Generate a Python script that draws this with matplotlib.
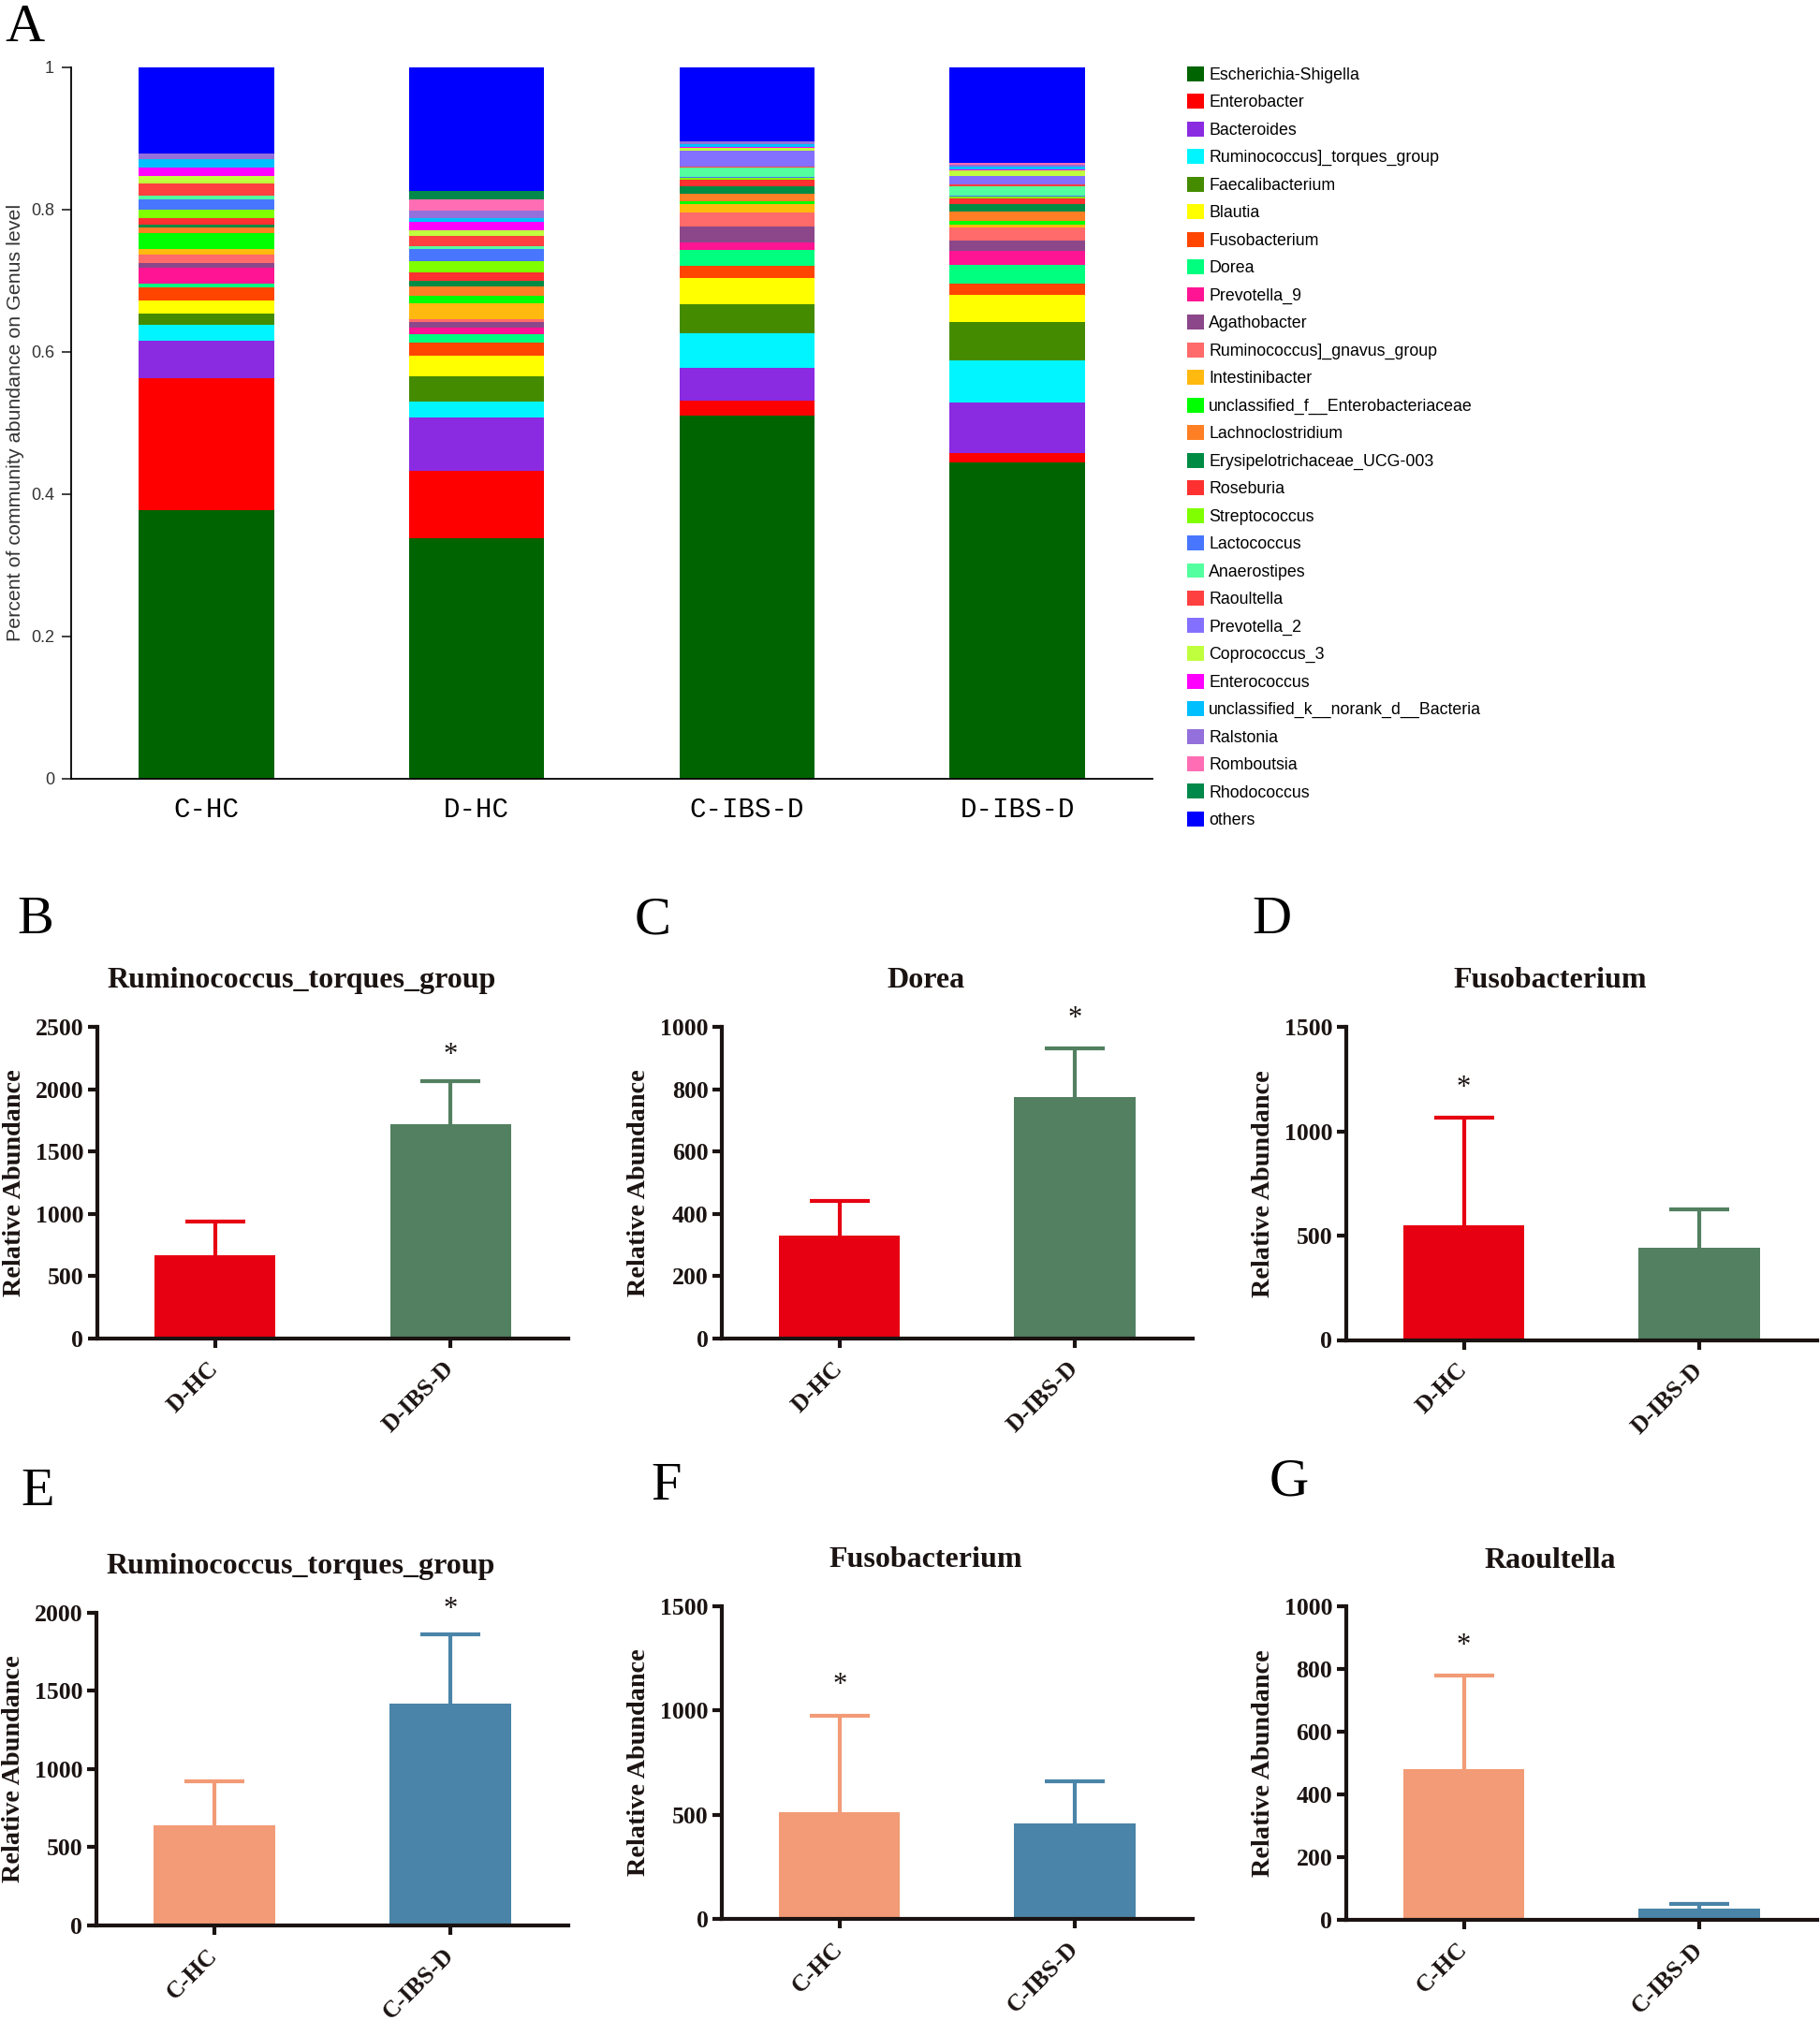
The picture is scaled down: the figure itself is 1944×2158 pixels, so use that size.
import matplotlib
matplotlib.use("Agg")
import matplotlib.pyplot as plt
from matplotlib.patches import Patch
import numpy as np

# ---------------- Panel A data ----------------
groups_A = ["C-HC", "D-HC", "C-IBS-D", "D-IBS-D"]
genera = ["Escherichia-Shigella", "Enterobacter", "Bacteroides", "Ruminococcus]_torques_group",
          "Faecalibacterium", "Blautia", "Fusobacterium", "Dorea", "Prevotella_9", "Agathobacter",
          "Ruminococcus]_gnavus_group", "Intestinibacter", "unclassified_f__Enterobacteriaceae",
          "Lachnoclostridium", "Erysipelotrichaceae_UCG-003", "Roseburia", "Streptococcus",
          "Lactococcus", "Anaerostipes", "Raoultella", "Prevotella_2", "Coprococcus_3",
          "Enterococcus", "unclassified_k__norank_d__Bacteria", "Ralstonia", "Romboutsia",
          "Rhodococcus", "others"]
genus_colors = ["#006400", "#FF0000", "#8A2BE2", "#00F5FF", "#458B00", "#FFFF00", "#FF4500",
                "#00FF7F", "#FF1493", "#8B4789", "#FF6A6A", "#FFB90F", "#00FF00", "#FF7F24",
                "#008B45", "#FF3030", "#7FFF00", "#4876FF", "#54FF9F", "#FF4040", "#8470FF",
                "#C0FF3E", "#FF00FF", "#00BFFF", "#9370DB", "#FF6EB4", "#00894A", "#0000FF"]

escherichia      = [0.378, 0.338, 0.510, 0.4445]
enterobacter     = [0.185, 0.094, 0.021, 0.0125]
bacteroides      = [0.053, 0.075, 0.046, 0.072]
torques          = [0.022, 0.0226, 0.049, 0.059]
faecalibacterium = [0.016, 0.0364, 0.041, 0.054]
blautia          = [0.018, 0.028, 0.037, 0.038]
fusobacterium    = [0.018, 0.0187, 0.016, 0.015]
dorea            = [0.0055, 0.0113, 0.0225, 0.027]
prevotella_9     = [0.0225, 0.010, 0.0105, 0.0197]
agathobacter     = [0.007, 0.008, 0.023, 0.0145]
gnavus           = [0.012, 0.003, 0.019, 0.0185]
intestinibacter  = [0.007, 0.0225, 0.012, 0.004]
uncl_f           = [0.0225, 0.011, 0.004, 0.0055]
lachnoclostridium= [0.0075, 0.0125, 0.011, 0.0125]
erysipelo        = [0.005, 0.008, 0.011, 0.011]
roseburia        = [0.008, 0.012, 0.008, 0.008]
streptococcus    = [0.012, 0.016, 0.003, 0.002]
lactococcus      = [0.015, 0.017, 0.002, 0.002]
anaerostipes     = [0.005, 0.004, 0.012, 0.013]
raoultella       = [0.017, 0.014, 0.002, 0.002]
prevotella_2     = [0.0, 0.001, 0.022, 0.012]
coprococcus_3    = [0.011, 0.007, 0.004, 0.008]
enterococcus     = [0.011, 0.0125, 0.001, 0.001]
uncl_k           = [0.013, 0.0045, 0.005, 0.004]
ralstonia        = [0.007, 0.011, 0.003, 0.003]
romboutsia       = [0.0, 0.016, 0.0, 0.002]
rhodococcus      = [0.0, 0.012, 0.0, 0.0]
others           = [0.122, 0.175, 0.105, 0.134]

abund = [escherichia, enterobacter, bacteroides, torques, faecalibacterium, blautia,
         fusobacterium, dorea, prevotella_9, agathobacter, gnavus, intestinibacter, uncl_f,
         lachnoclostridium, erysipelo, roseburia, streptococcus, lactococcus, anaerostipes,
         raoultella, prevotella_2, coprococcus_3, enterococcus, uncl_k, ralstonia, romboutsia,
         rhodococcus, others]

# ---------------- Panels B-G data ----------------
titles = ["Ruminococcus_torques_group", "Dorea", "Fusobacterium",
          "Ruminococcus_torques_group", "Fusobacterium", "Raoultella"]
panel_letters = ["B", "C", "D", "E", "F", "G"]
cats_D = ["D-HC", "D-IBS-D"]
cats_C = ["C-HC", "C-IBS-D"]
means_B = [670, 1720];  upper_B = [940, 2065]
means_C = [330, 775];   upper_C = [440, 930]
means_D = [550, 440];   upper_D = [1065, 625]
means_E = [640, 1420];  upper_E = [920, 1860]
means_F = [510, 460];   upper_F = [975, 660]
means_G = [480, 35];    upper_G = [780, 50]
ymax_list = [2500, 1000, 1500, 2000, 1500, 1000]
ystep_list = [500, 200, 500, 500, 500, 200]
star_idx = [1, 1, 0, 1, 0, 0]

colors_D = ["#E60012", "#528060"]
colors_C = ["#F29B76", "#4A84A8"]

# ---------------- Figure ----------------
W, H = 1944, 2158
fig = plt.figure(figsize=(W / 100, H / 100), dpi=100)

def rect(x0, y0, x1, y1):
    return [x0 / W, 1 - y1 / H, (x1 - x0) / W, (y1 - y0) / H]

SANS = "Liberation Sans"
SERIF = "Liberation Serif"
INK = "#1a1311"

# ---- Panel A ----
axA = fig.add_axes(rect(76, 71.5, 1231, 832))
xA = np.arange(len(groups_A))
bottom = np.zeros(len(groups_A))
for vals, col in zip(abund, genus_colors):
    axA.bar(xA, vals, bottom=bottom, width=0.5, color=col, edgecolor="none", linewidth=0)
    bottom += np.array(vals)
axA.set_xlim(-0.5, 3.5)
axA.set_ylim(0, 1)
axA.spines["top"].set_visible(False)
axA.spines["right"].set_visible(False)
axA.spines["left"].set_linewidth(1.3)
axA.spines["bottom"].set_linewidth(1.3)
axA.set_yticks([0, 0.2, 0.4, 0.6, 0.8, 1.0])
axA.set_yticklabels(["0", "0.2", "0.4", "0.6", "0.8", "1"], fontsize=13, family=SANS)
axA.tick_params(axis="y", length=7, width=1.3, pad=6, color="#333333", labelcolor="#333333")
axA.set_xticks(xA)
axA.set_xticklabels(groups_A, fontsize=21, family="Liberation Mono")
axA.tick_params(axis="x", length=0, pad=14)
axA.set_ylabel("Percent of community abundance on Genus level", fontsize=15.4, family=SANS,
               color="#333333")
axA.yaxis.set_label_coords(-50 / 1155, 0.5)

handles = [Patch(facecolor=c, edgecolor="none") for c in genus_colors]
fig.legend(handles, genera, loc="upper left", bbox_to_anchor=(1268 / W, 1 - 71 / H),
           frameon=False, prop={"family": SANS, "size": 12.8},
           handlelength=1.0, handleheight=1.0, handletextpad=0.3, labelspacing=0.64,
           borderpad=0, borderaxespad=0)

fig.text(26 / W, 1 - 30 / H, "A", fontsize=42, family=SERIF, ha="center", va="center")

# ---- Panels B-G ----
rects = [rect(103.6, 1097, 607.4, 1430), rect(771, 1097, 1273.6, 1430),
         rect(1437.8, 1097, 1940.8, 1431.5), rect(102.8, 1722.9, 607, 2057),
         rect(771, 1716, 1273.6, 2050), rect(1437.8, 1716.4, 1940.8, 2050.8)]
letter_pos = [(38, 983), (697, 983), (1358, 983), (40, 1594), (712, 1588), (1377, 1584)]
means_all = [means_B, means_C, means_D, means_E, means_F, means_G]
upper_all = [upper_B, upper_C, upper_D, upper_E, upper_F, upper_G]
cats_all = [cats_D, cats_D, cats_D, cats_C, cats_C, cats_C]
cols_all = [colors_D, colors_D, colors_D, colors_C, colors_C, colors_C]
star_offsets = [20, 23, 23, 19, 23, 23]

for i in range(6):
    ax = fig.add_axes(rects[i])
    x = np.arange(2)
    m = means_all[i]
    u = upper_all[i]
    cols = cols_all[i]
    for j in range(2):
        _, caps, _ = ax.errorbar(x[j], m[j], yerr=[[0], [u[j] - m[j]]], fmt="none",
                                 ecolor=cols[j], elinewidth=3.0, capsize=23, capthick=3.0,
                                 zorder=1)
        for cl in caps:
            if np.allclose(cl.get_ydata(), m[j]):
                cl.set_visible(False)
            else:
                cl.set_solid_capstyle("round")
        ax.bar(x[j], m[j], width=0.515, color=cols[j], edgecolor="none", zorder=2)
    s = star_idx[i]
    ax.annotate("*", xy=(x[s], u[s]), xytext=(0, star_offsets[i]), textcoords="offset points",
                ha="center", va="center", fontsize=22, family=SERIF, color=INK)
    ax.set_xlim(-0.5, 1.5)
    ax.set_ylim(0, ymax_list[i])
    ax.set_yticks(np.arange(0, ymax_list[i] + 1, ystep_list[i]))
    ax.spines["top"].set_visible(False)
    ax.spines["right"].set_visible(False)
    ax.spines["left"].set_linewidth(3.0)
    ax.spines["bottom"].set_linewidth(3.0)
    ax.spines["left"].set_color(INK)
    ax.spines["bottom"].set_color(INK)
    ax.tick_params(axis="both", direction="out", length=7.5, width=3.0, color=INK)
    ax.tick_params(axis="y", pad=3)
    for lab in ax.get_yticklabels():
        lab.set_fontsize(18.5)
        lab.set_fontweight("bold")
        lab.set_family(SERIF)
        lab.set_color(INK)
    ax.set_xticks(x)
    ax.set_xticklabels(cats_all[i], rotation=45, ha="right", va="center",
                       rotation_mode="anchor", fontsize=18.5, fontweight="bold",
                       family=SERIF, color=INK)
    ax.tick_params(axis="x", pad=13)
    wpx = rects[i][2] * W
    ax.set_ylabel("Relative Abundance", fontsize=20.3, fontweight="bold", family=SERIF,
                  color=INK)
    ax.yaxis.set_label_coords(-76 / wpx, 0.5)
    ax.annotate(titles[i], xy=(0.433, 1.0), xycoords="axes fraction", xytext=(0, 35.5),
                textcoords="offset points", ha="center", va="center", fontsize=23,
                fontweight="bold", family=SERIF, color=INK)
    lx, ly = letter_pos[i]
    fig.text(lx / W, 1 - ly / H, panel_letters[i], fontsize=42, family=SERIF,
             ha="center", va="center")

fig.savefig("out.png", dpi=100)
